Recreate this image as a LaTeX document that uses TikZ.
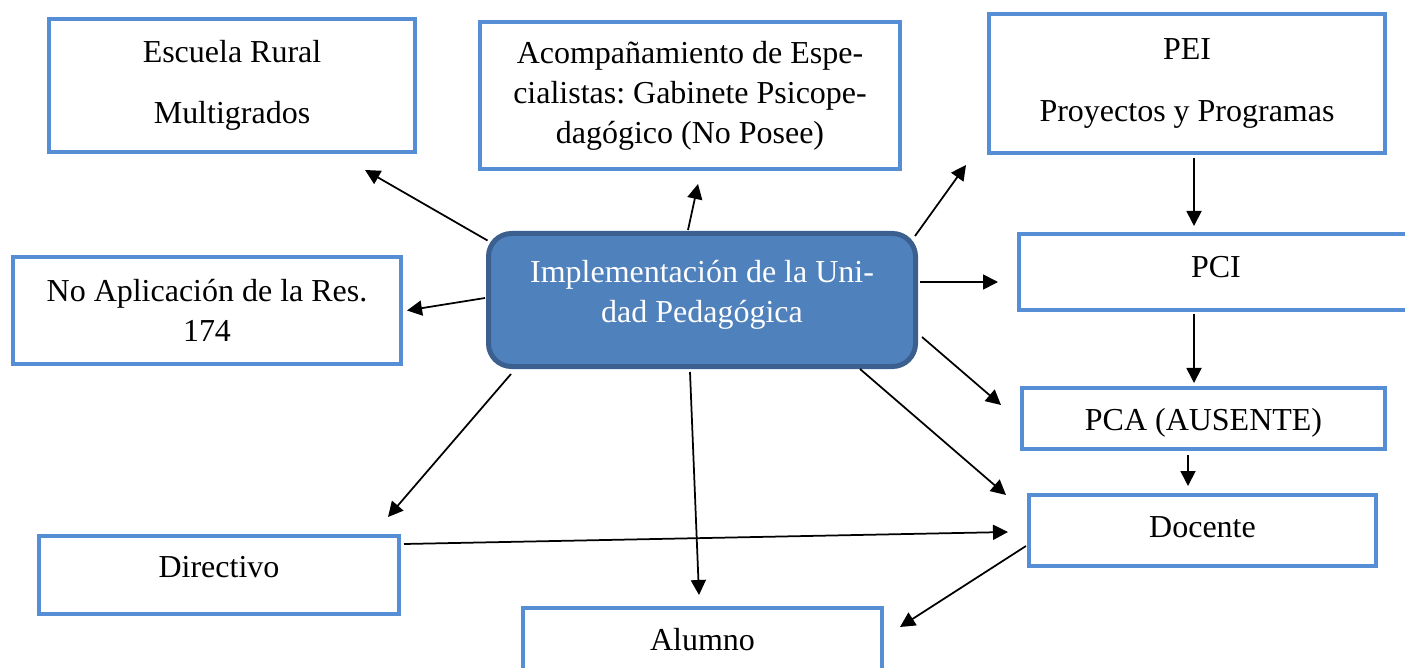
\documentclass[tikz,border=0pt]{standalone}
\usepackage{fontspec}
\setmainfont{Liberation Serif}
\usepackage{tikz}
\usetikzlibrary{arrows.meta,calc}

\definecolor{cajaazul}{HTML}{558ED5}
\definecolor{centroazul}{HTML}{4F81BD}
\definecolor{bordecentro}{HTML}{3B5F8E}

\begin{document}
\frenchspacing
\begin{tikzpicture}[x=0.2mm, y=-0.2mm,
        caja/.style={draw=cajaazul, line width=0.8mm, fill=white, align=center, inner sep=0pt,
            font={\fontsize{18.2}{22.8}\selectfont}},
        linea/.style={text height=12pt, text depth=#1},
        centro/.style={draw=bordecentro, line width=1mm, fill=centroazul, rounded corners=4.6mm,
            text=white, align=center, inner sep=0pt, font={\fontsize{18.2}{22.8}\selectfont}},
        flecha/.style={-{Triangle[length=3mm,width=3mm]}, line width=0.35mm, black}]
        \clip (0,0) rectangle (1405,668);

        % central node
        \node[centro, minimum width=85.4mm, minimum height=26.6mm, text depth=9.8pt] (unidad) at (702,300)
            {Implementación de la Uni-\\dad Pedagógica};

        % left column
        \node[caja, minimum width=73.2mm, minimum height=26.6mm] (escuela) at (232,85.5)
            {Escuela Rural\\[12pt]Multigrados};
        \node[caja, minimum width=77.6mm, minimum height=21.4mm] (noaplica) at (207,310.5)
            {No Aplicación de la Res.\\174};
        \node[caja, linea=9.1pt, minimum width=72mm, minimum height=15.6mm] (directivo) at (219,575)
            {Directivo};

        % middle column
        \node[caja, minimum width=84mm, minimum height=29.4mm] (especialistas) at (690,95.5)
            {Acompañamiento de Espe-\\cialistas: Gabinete Psicope-\\dagógico (No Posee)};
        \node[caja, linea=3.4pt, minimum width=71.8mm, minimum height=14mm] (alumno) at (702.5,643)
            {Alumno};

        % right column
        \node[caja, minimum width=79.2mm, minimum height=27.8mm] (pei) at (1187,83.5)
            {PEI\\[12pt]Proyectos y Programas};
        \node[caja, linea=5.7pt, minimum width=78.8mm, minimum height=15.2mm] (pci) at (1216,272)
            {PCI};
        \node[caja, linea=0pt, text height=13.7pt, minimum width=72.6mm, minimum height=12.2mm] (pca) at (1203.5,418.5)
            {PCA (AUSENTE)};
        \node[caja, linea=4pt, minimum width=69.4mm, minimum height=14.2mm] (docente) at (1202.5,530.5)
            {Docente};

        % arrows out of the central node
        \draw[flecha] ($(unidad.north west)+(1.5,9.5)$) -- ($(escuela.south east)+(-52,16)$);
        \draw[flecha] ($(unidad.north)+(-14,-1)$) -- ($(especialistas.south)+(8,13)$);
        \draw[flecha] ($(unidad.north east)+(-3,5)$) -- ($(pei.south west)+(-21,10)$);
        \draw[flecha] ($(unidad.east)+(2,-18)$) -- ($(pci.west)+(-19,10)$);
        \draw[flecha] ($(unidad.east)+(4,37)$) -- ($(pca.west)+(-19,-13.5)$);
        \draw[flecha] ($(unidad.south)+(158,0)$) -- ($(docente.north west)+(-21,2)$);
        \draw[flecha] ($(unidad.south)+(-12,3)$) -- ($(alumno.north)+(-3.5,-11)$);
        \draw[flecha] ($(unidad.south west)+(25,5)$) -- ($(directivo.north east)+(-13,-17)$);
        \draw[flecha] ($(unidad.west)+(-1,-2)$) -- ($(noaplica.east)+(4,0)$);

        % chain on the right
        \draw[flecha] ($(pei.south)+(7,3)$) -- ($(pci.north)+(-22,-6)$);
        \draw[flecha] ($(pci.south)+(-22,2)$) -- ($(pca.north)+(-9.5,-3)$);
        \draw[flecha] ($(pca.south)+(-15.5,4)$) -- ($(docente.north)+(-14.5,-7)$);

        % bottom links
        \draw[flecha] ($(directivo.north east)+(3,10)$) -- ($(docente.west)+(-19,1.5)$);
        \draw[flecha] ($(docente.west)+(-1,15.5)$) -- ($(alumno.east)+(16,-16)$);
    \end{tikzpicture}
\end{document}
